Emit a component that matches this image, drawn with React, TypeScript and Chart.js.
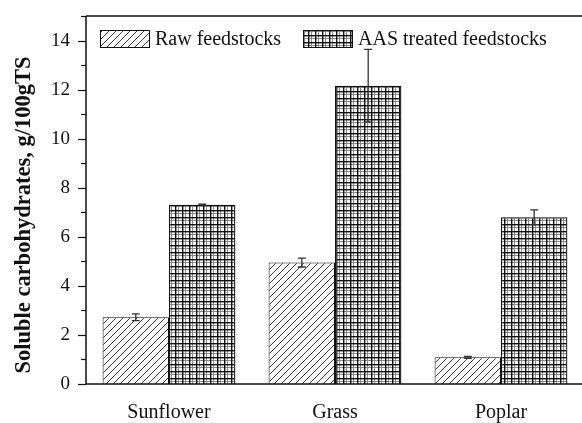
import React, { useEffect, useRef } from "react";
import { Chart, registerables } from "chart.js";

Chart.register(...registerables);

const categories = ["Sunflower", "Grass", "Poplar"];
const seriesNames = ["Raw feedstocks", "AAS treated feedstocks"];
const rawValues = [2.72, 4.95, 1.09];
const rawErrors = [0.14, 0.18, 0.04];
const aasValues = [7.31, 12.16, 6.8];
const aasErrors = [0.02, 1.48, 0.3];
const yTitle = "Soluble carbohydrates, g/100gTS";
const yMax = 15;

const FONT = "'Liberation Serif', 'Times New Roman', serif";

function makeHatch(): CanvasPattern | string {
  const c = document.createElement("canvas");
  const s = 7;
  c.width = s;
  c.height = s;
  const g = c.getContext("2d")!;
  g.fillStyle = "#fff";
  g.fillRect(0, 0, s, s);
  g.strokeStyle = "#222";
  g.lineWidth = 0.9;
  g.beginPath();
  g.moveTo(-1, s + 1);
  g.lineTo(s + 1, -1);
  g.moveTo(-1, 1);
  g.lineTo(1, -1);
  g.moveTo(s - 1, s + 1);
  g.lineTo(s + 1, s - 1);
  g.stroke();
  return g.createPattern(c, "repeat") || "#fff";
}

function makeGrid(): CanvasPattern | string {
  const c = document.createElement("canvas");
  const s = 7;
  c.width = s;
  c.height = s;
  const g = c.getContext("2d")!;
  g.fillStyle = "#fff";
  g.fillRect(0, 0, s, s);
  g.fillStyle = "#888";
  g.fillRect(3, 0, 1, s);
  g.fillRect(0, 3, s, 1);
  g.fillStyle = "#111";
  g.fillRect(0, 0, 1.4, s);
  g.fillRect(0, 0, s, 1.4);
  return g.createPattern(c, "repeat") || "#fff";
}

export default function App() {
  const ref = useRef<HTMLCanvasElement | null>(null);

  useEffect(() => {
    if (!ref.current) return;
    const hatch = makeHatch();
    const grid = makeGrid();
    const errors = [rawErrors, aasErrors];

    const extras = {
      id: "extras",
      afterDatasetsDraw(chart: any) {
        const ctx = chart.ctx;
        const area = chart.chartArea;
        const y = chart.scales.y;
        ctx.save();
        // error bars
        ctx.strokeStyle = "#333";
        ctx.lineWidth = 1.3;
        chart.data.datasets.forEach((ds: any, di: number) => {
          const meta = chart.getDatasetMeta(di);
          meta.data.forEach((bar: any, i: number) => {
            const v = ds.data[i];
            const e = errors[di][i];
            const x = bar.x;
            const yt = y.getPixelForValue(v + e);
            const yb = y.getPixelForValue(v - e);
            ctx.beginPath();
            ctx.moveTo(x, yt);
            ctx.lineTo(x, yb);
            ctx.moveTo(x - 4, yt);
            ctx.lineTo(x + 4, yt);
            ctx.moveTo(x - 4, yb);
            ctx.lineTo(x + 4, yb);
            ctx.stroke();
          });
        });
        // axes frame
        ctx.strokeStyle = "#111";
        ctx.lineWidth = 1.5;
        ctx.beginPath();
        ctx.moveTo(area.left, area.top);
        ctx.lineTo(area.right + 5, area.top);
        ctx.moveTo(area.left, area.top);
        ctx.lineTo(area.left, area.bottom);
        ctx.lineTo(area.right + 5, area.bottom);
        ctx.stroke();
        // y ticks
        ctx.lineWidth = 1.2;
        for (let v = 0; v <= yMax; v++) {
          const py = Math.round(y.getPixelForValue(v)) + 0.5;
          const len = v % 2 === 0 ? 8 : 5;
          ctx.beginPath();
          ctx.moveTo(area.left - len, py);
          ctx.lineTo(area.left, py);
          ctx.stroke();
        }
        // y title
        ctx.fillStyle = "#111";
        ctx.font = "bold 22.5px " + FONT;
        ctx.textAlign = "center";
        ctx.textBaseline = "middle";
        ctx.translate(24, 215);
        ctx.rotate(-Math.PI / 2);
        ctx.fillText(yTitle, 0, 0);
        ctx.setTransform(1, 0, 0, 1, 0, 0);
        // legend
        const fills = [hatch, grid];
        const boxes = [
          { x: 100, tx: 155 },
          { x: 303, tx: 358 },
        ];
        ctx.font = "20px " + FONT;
        ctx.textAlign = "left";
        seriesNames.forEach((name, i) => {
          const b = boxes[i];
          ctx.fillStyle = fills[i] as any;
          ctx.fillRect(b.x, 30, 49, 18);
          ctx.strokeStyle = "#111";
          ctx.lineWidth = 1;
          ctx.strokeRect(b.x + 0.5, 30.5, 49, 17);
          ctx.fillStyle = "#111";
          ctx.fillText(name, b.tx, 40);
        });
        ctx.restore();
      },
    };

    const chart = new Chart(ref.current, {
      type: "bar",
      data: {
        labels: categories,
        datasets: [
          {
            label: seriesNames[0],
            data: rawValues,
            backgroundColor: hatch as any,
            borderColor: "#111",
            borderWidth: 1,
            categoryPercentage: 0.8,
            barPercentage: 1.0,
          },
          {
            label: seriesNames[1],
            data: aasValues,
            backgroundColor: grid as any,
            borderColor: "#111",
            borderWidth: 1.3,
            categoryPercentage: 0.8,
            barPercentage: 1.0,
          },
        ],
      },
      options: {
        animation: false,
        responsive: false,
        maintainAspectRatio: false,
        layout: { padding: { top: 16, right: 0, left: 0, bottom: 0 } },
        plugins: {
          legend: { display: false },
          tooltip: { enabled: false },
        },
        scales: {
          x: {
            grid: { display: false, drawTicks: false },
            border: { display: false },
            ticks: {
              color: "#111",
              font: { family: FONT, size: 20 },
              padding: 17,
            },
            afterFit: (s: any) => {
              s.height = 39;
              s.paddingLeft = 0;
              s.paddingRight = 0;
            },
          },
          y: {
            min: 0,
            max: yMax,
            grid: { display: false, drawTicks: false },
            border: { display: false },
            ticks: {
              stepSize: 1,
              color: "#111",
              font: { family: FONT, size: 19 },
              padding: 16,
              callback: (v: any) => (Number(v) % 2 === 0 && Number(v) < yMax ? String(v) : ""),
            },
            afterFit: (s: any) => {
              s.width = 86;
              s.paddingTop = 0;
              s.paddingBottom = 0;
            },
          },
        },
      },
      plugins: [extras],
    });
    return () => chart.destroy();
  }, []);

  return (
    <div style={{ position: "fixed", left: 0, top: 0, width: 582, height: 423, overflow: "hidden", background: "#fff" }}>
      <canvas ref={ref} width={584} height={423} style={{ display: "block", width: 584, height: 423 }} />
    </div>
  );
}
